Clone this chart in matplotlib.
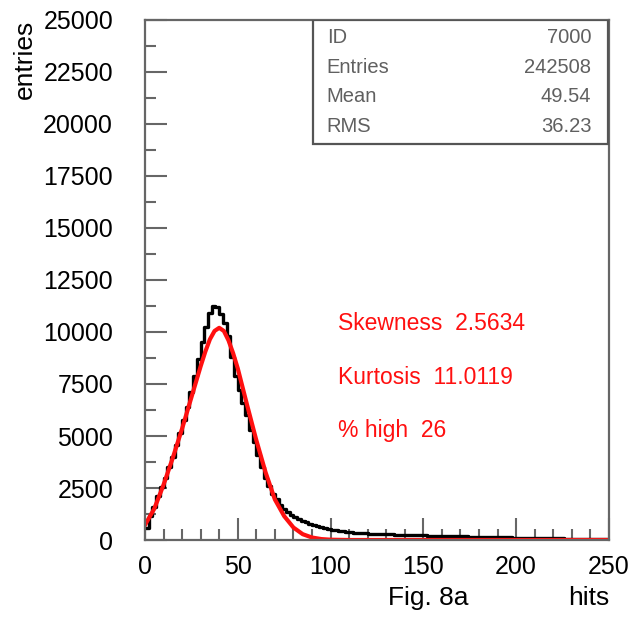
import numpy as np
import matplotlib
matplotlib.use("Agg")
import matplotlib.pyplot as plt
from matplotlib.ticker import MultipleLocator

# histogram contents, bin width 2 from 0 to 250
bin_edges = np.arange(0, 252, 2)
counts = [
    600, 1150, 1600, 2100, 2550, 3000, 3500, 4000, 4550, 5150,
    5750, 6400, 7100, 7900, 8700, 9500, 10250, 10900, 11250, 11200,
    10850, 10450, 9800, 8800, 7900, 7200, 6600, 6000, 5300, 4700,
    4100, 3500, 3000, 2600, 2200, 1950, 1700, 1500, 1350, 1220,
    1100, 1000, 920, 850, 780, 720, 660, 610, 560, 520,
    490, 460, 430, 410, 390, 370, 355, 340, 330, 320,
    310, 300, 290, 285, 280, 270, 265, 260, 255, 250,
    245, 240, 235, 230, 225, 220, 215, 210, 205, 200,
    195, 190, 186, 182, 178, 174, 170, 166, 162, 158,
    154, 150, 146, 142, 138, 134, 130, 126, 122, 118,
    114, 110, 106, 102, 98, 95, 92, 89, 86, 83,
    80, 77, 74, 71, 68, 66, 64, 62, 60, 58,
    56, 54, 52, 50, 48,
]

# fitted curve (red)
fit_x = [0, 5, 10, 15, 20, 25, 30, 32.5, 35, 37.5, 40, 42.5, 45, 47.5, 50,
         55, 60, 65, 70, 75, 80, 85, 90, 95, 100, 110, 250]
fit_y = [720, 1500, 2650, 3950, 5350, 6850, 8350, 9050, 9650, 10050, 10200,
         10050, 9600, 8980, 8250, 6500, 4800, 3250, 1950, 1150, 600, 280,
         120, 45, 15, 0, 0]

stats_names = ["ID", "Entries", "Mean", "RMS"]
stats_vals = ["7000", "242508", "49.54", "36.23"]
red_notes = ["Skewness  2.5634", "Kurtosis  11.0119", "% high  26"]

plt.rcParams['font.family'] = ['Liberation Sans', 'DejaVu Sans']

fig = plt.figure(figsize=(6.33, 6.24), dpi=100)
ax = fig.add_axes([0.229, 0.1346, 0.733, 0.8334])

xs = np.repeat(bin_edges, 2)[1:-1]
ys = np.repeat(counts, 2)
ax.plot(xs, ys, color='black', lw=2.4)
ax.plot(fit_x, fit_y, color='#ff1010', lw=3.0, solid_joinstyle='round')

ax.set_xlim(0, 250)
ax.set_ylim(0, 25000)
ax.xaxis.set_major_locator(MultipleLocator(50))
ax.xaxis.set_minor_locator(MultipleLocator(10))
ax.yaxis.set_major_locator(MultipleLocator(2500))
ax.yaxis.set_minor_locator(MultipleLocator(1250))
ax.tick_params(which='both', direction='in', color='#666666', width=1.5,
               top=False, right=False, labelsize=18)
ax.tick_params(which='major', length=16)
ax.tick_params(which='minor', length=8)
ax.tick_params(axis='x', pad=11)
ax.tick_params(axis='y', pad=23)
for s in ax.spines.values():
    s.set_color('#666666')
    s.set_linewidth(1.6)

fig.text(0.04, 0.968, "entries", rotation=90, ha='center', va='top', fontsize=19)
fig.text(0.613, 0.022, "Fig. 8a", ha='left', va='bottom', fontsize=19)
fig.text(0.962, 0.022, "hits", ha='right', va='bottom', fontsize=19)

# stats box
box = plt.Rectangle((0.362, 0.762), 0.635, 0.238, transform=ax.transAxes,
                    fill=True, facecolor='white', edgecolor='#555555', lw=1.6,
                    zorder=5)
ax.add_patch(box)
for i, (n, v) in enumerate(zip(stats_names, stats_vals)):
    yy = 0.967 - i * 0.0575
    ax.text(0.392, yy, n, transform=ax.transAxes, ha='left', va='center',
            fontsize=14.5, color='#606060', zorder=6)
    ax.text(0.962, yy, v, transform=ax.transAxes, ha='right', va='center',
            fontsize=14.5, color='#606060', zorder=6)

for i, t in enumerate(red_notes):
    ax.text(0.415, 0.416 - i * 0.103, t, transform=ax.transAxes, ha='left',
            va='center', fontsize=16.5, color='#ff1010')

fig.savefig("out.png", dpi=100)
